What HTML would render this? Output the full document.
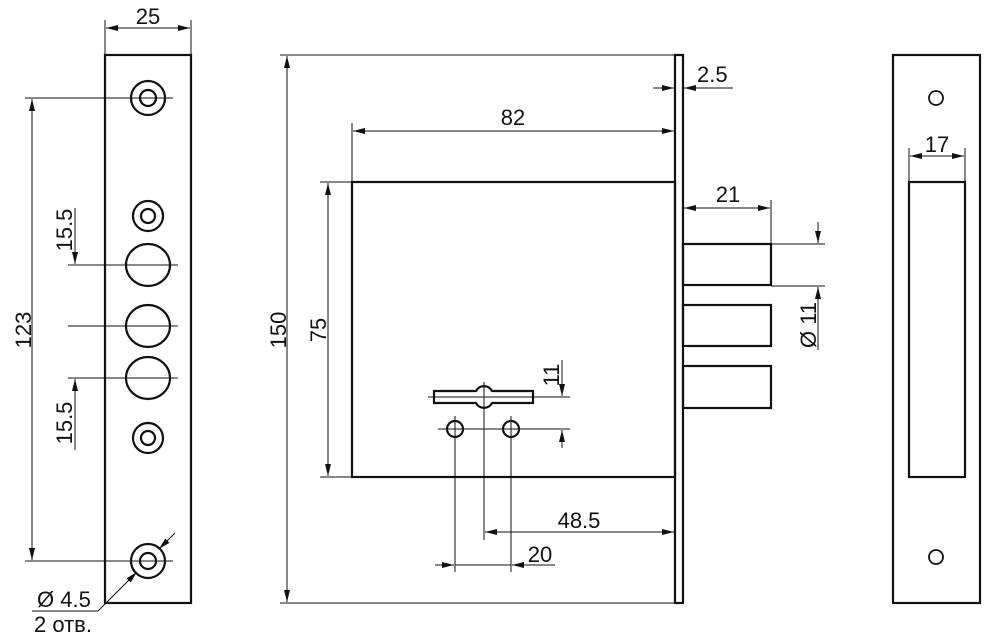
<!DOCTYPE html>
<html><head><meta charset="utf-8"><style>body{margin:0;background:#fff}svg{display:block}text{font-family:"Liberation Sans",sans-serif;font-size:22px;fill:#111}</style></head>
<body>
<svg width="992" height="644" viewBox="0 0 992 644">
<defs>
<marker id="a" viewBox="0 0 12 6" refX="12" refY="3" markerWidth="12" markerHeight="6" orient="auto-start-reverse" markerUnits="userSpaceOnUse"><path d="M0,0 L12,3 L0,6 Z" fill="#111"/></marker>
</defs>
<g fill="none" stroke="#111" stroke-width="1">
<rect x="105" y="55" width="86" height="548" stroke-width="2.2"/>
<line x1="105" y1="20" x2="105" y2="55"/><line x1="191" y1="20" x2="191" y2="55"/>
<line x1="106" y1="28" x2="190" y2="28" marker-start="url(#a)" marker-end="url(#a)"/>
<g stroke-width="2.2">
<circle cx="148" cy="98" r="17"/><circle cx="148" cy="98" r="8"/>
<circle cx="148" cy="216" r="15"/><circle cx="148" cy="216" r="7"/>
<ellipse cx="148" cy="265" rx="22" ry="21"/><ellipse cx="148" cy="326" rx="22" ry="21"/><ellipse cx="148" cy="378" rx="22" ry="21"/>
<circle cx="148" cy="438" r="15"/><circle cx="148" cy="438" r="7"/>
<circle cx="148" cy="561" r="17"/><circle cx="148" cy="561" r="8"/>
</g>
<line x1="25" y1="98" x2="173" y2="98"/><line x1="25" y1="561" x2="173" y2="561"/>
<line x1="32" y1="99" x2="32" y2="560" marker-start="url(#a)" marker-end="url(#a)"/>
<line x1="68" y1="265" x2="178" y2="265"/><line x1="68" y1="326" x2="178" y2="326"/><line x1="68" y1="378" x2="178" y2="378"/>
<line x1="75" y1="208" x2="75" y2="264" marker-end="url(#a)"/>
<line x1="75" y1="450" x2="75" y2="379" marker-end="url(#a)"/>
<line x1="32" y1="611" x2="98" y2="611"/><line x1="98" y1="611" x2="137" y2="572" marker-end="url(#a)"/>
<line x1="175" y1="533" x2="159" y2="549" marker-end="url(#a)"/>
<rect x="675" y="55" width="8" height="548" stroke-width="2.2"/>
<rect x="352" y="182" width="323" height="295" stroke-width="2.2"/>
<line x1="280" y1="55" x2="675" y2="55"/><line x1="280" y1="603" x2="675" y2="603"/>
<line x1="287" y1="56" x2="287" y2="602" marker-start="url(#a)" marker-end="url(#a)"/>
<line x1="320" y1="182" x2="352" y2="182"/><line x1="320" y1="477" x2="352" y2="477"/>
<line x1="328" y1="183" x2="328" y2="476" marker-start="url(#a)" marker-end="url(#a)"/>
<line x1="352" y1="123" x2="352" y2="182"/>
<line x1="353" y1="131" x2="674" y2="131" marker-start="url(#a)" marker-end="url(#a)"/>
<line x1="653" y1="88" x2="674" y2="88" marker-end="url(#a)"/>
<line x1="733" y1="88" x2="684" y2="88" marker-end="url(#a)"/>
<line x1="771" y1="200" x2="771" y2="243"/>
<line x1="684" y1="208" x2="770" y2="208" marker-start="url(#a)" marker-end="url(#a)"/>
<g stroke-width="2.2"><rect x="683" y="244" width="88" height="41"/><rect x="683" y="305" width="88" height="41"/><rect x="683" y="366" width="88" height="42"/></g>
<line x1="771" y1="244" x2="825" y2="244"/><line x1="771" y1="286" x2="825" y2="286"/>
<line x1="818" y1="222" x2="818" y2="243" marker-end="url(#a)"/>
<line x1="818" y1="350" x2="818" y2="287" marker-end="url(#a)"/>
<path d="M434,391 H476 A9,9 0 0 1 492,391 H533 V403 H492 A9,9 0 0 1 476,403 H434 Z" stroke-width="2.2"/>
<line x1="428" y1="397" x2="570" y2="397"/>
<line x1="484" y1="382" x2="484" y2="540"/>
<circle cx="455" cy="429" r="8" stroke-width="2.2"/><circle cx="511" cy="429" r="8" stroke-width="2.2"/>
<line x1="438" y1="429" x2="570" y2="429"/>
<line x1="562" y1="360" x2="562" y2="396" marker-end="url(#a)"/>
<line x1="562" y1="448" x2="562" y2="430" marker-end="url(#a)"/>
<line x1="455" y1="416" x2="455" y2="572"/><line x1="511" y1="416" x2="511" y2="572"/>
<line x1="485" y1="532" x2="674" y2="532" marker-start="url(#a)" marker-end="url(#a)"/>
<line x1="435" y1="565" x2="454" y2="565" marker-end="url(#a)"/>
<line x1="555" y1="565" x2="512" y2="565" marker-end="url(#a)"/>
<line x1="455" y1="565" x2="511" y2="565"/>
<rect x="893" y="55" width="87" height="548" stroke-width="2.2"/>
<circle cx="936" cy="98" r="7" stroke-width="1.8"/><circle cx="936" cy="557" r="7" stroke-width="1.8"/>
<rect x="909" y="182" width="56" height="295" stroke-width="2.2"/>
<line x1="909" y1="148" x2="909" y2="182"/><line x1="965" y1="148" x2="965" y2="182"/>
<line x1="910" y1="156" x2="964" y2="156" marker-start="url(#a)" marker-end="url(#a)"/>
</g>
<text x="148" y="24" text-anchor="middle">25</text>
<text transform="translate(31,330) rotate(-90)" text-anchor="middle">123</text>
<text transform="translate(72,230) rotate(-90)" text-anchor="middle">15.5</text>
<text transform="translate(72,423) rotate(-90)" text-anchor="middle">15.5</text>
<text x="37" y="607">Ø 4.5</text>
<text x="34" y="632">2 отв.</text>
<text transform="translate(286,330) rotate(-90)" text-anchor="middle">150</text>
<text transform="translate(326,330) rotate(-90)" text-anchor="middle">75</text>
<text x="513" y="125" text-anchor="middle">82</text>
<text x="697" y="82">2.5</text>
<text x="728" y="202" text-anchor="middle">21</text>
<text transform="translate(816,325) rotate(-90)" text-anchor="middle">Ø 11</text>
<text transform="translate(559,375) rotate(-90)" text-anchor="middle">11</text>
<text x="579" y="528" text-anchor="middle">48.5</text>
<text x="540" y="562" text-anchor="middle">20</text>
<text x="937" y="152" text-anchor="middle">17</text>
</svg>
</body></html>
